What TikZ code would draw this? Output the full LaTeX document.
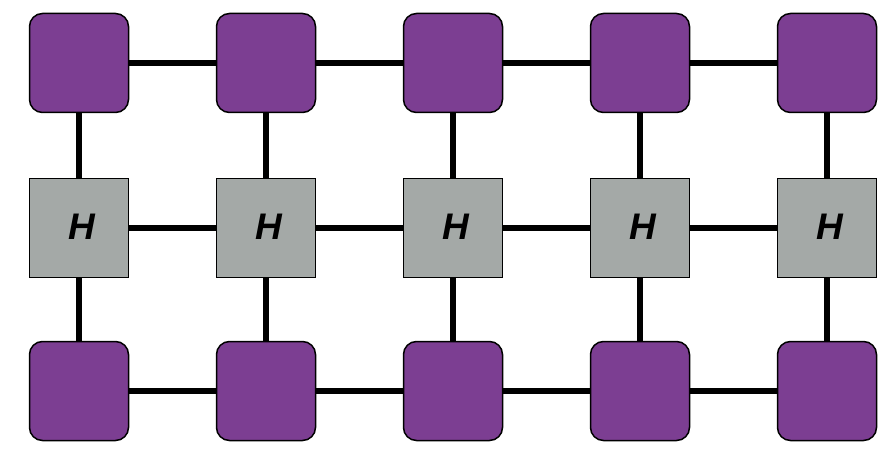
\documentclass[tikz,border=0pt]{standalone}
\usepackage{fontspec}
\setmainfont{Liberation Sans}
\definecolor{pur}{RGB}{124,62,146}
\definecolor{hgray}{RGB}{164,169,167}
\tikzset{
  qbox/.style={draw=black, line width=1.5pt, fill=pur, rounded corners=13pt, minimum width=99pt, minimum height=99pt, inner sep=0pt},
  hbox/.style={draw=black, line width=1.8pt, fill=hgray, minimum width=99pt, minimum height=99pt, inner sep=0pt},
  hlabel/.style={font=\fontsize{37}{37}\selectfont\bfseries\itshape, inner sep=0pt},
  link/.style={line width=6.5pt, black}
}
\begin{document}
\begin{tikzpicture}[x=1pt,y=-1pt]
\useasboundingbox (0,0) rectangle (895,460);
\foreach \i/\x in {1/79,2/266,3/453,4/640,5/827}{
  \node[qbox] (t\i) at (\x,63) {};
  \node[hbox] (h\i) at (\x,228) {};
  \node[hlabel] (l\i) at ([xshift=2.5pt,yshift=1pt]h\i.center) {H};
  \node[qbox] (b\i) at (\x,391) {};
}
\foreach \i in {1,...,5}{
  \draw[link] (t\i) -- (h\i);
  \draw[link] (h\i) -- (b\i);
}
\foreach \i/\j in {1/2,2/3,3/4,4/5}{
  \draw[link] (t\i) -- (t\j);
  \draw[link] (h\i) -- (h\j);
  \draw[link] (b\i) -- (b\j);
}
\end{tikzpicture}
\end{document}
